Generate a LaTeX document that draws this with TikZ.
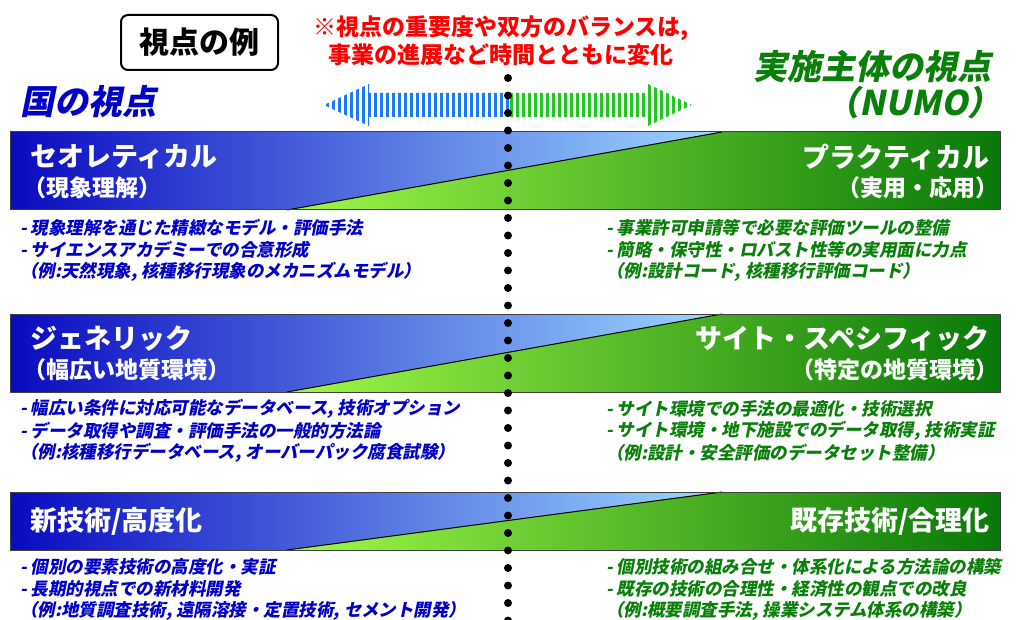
\documentclass[tikz,border=0pt]{standalone}
\usepackage{fontspec}
\setmainfont{Noto Sans CJK JP}
\newfontfamily\jpslant[FakeSlant=0.2]{Noto Sans CJK JP}
\definecolor{natblue}{HTML}{0000C8}
\definecolor{numogreen}{HTML}{0A800A}
\definecolor{notered}{HTML}{FF0000}
\definecolor{banddeep}{HTML}{0A0AC0}
\definecolor{bandmid}{HTML}{6A98E6}
\definecolor{bandsky}{HTML}{9CD8FF}
\definecolor{bandlime}{HTML}{A0F848}
\definecolor{bandleaf}{HTML}{84D838}
\definecolor{banddark}{HTML}{087808}
\definecolor{arrowblue}{HTML}{1A78FF}
\definecolor{arrowgreen}{HTML}{20C820}
\begin{document}
\begin{tikzpicture}[x=1pt,y=-1pt,join=round]
    \tikzstyle{bluefill} = [left color=banddeep,middle color=bandmid,right color=bandsky]
    \tikzstyle{greenfill} = [left color=bandlime,middle color=bandleaf,right color=banddark]
    \tikzstyle{bandedge} = [draw=black!75,line width=1pt]
    \tikzstyle{bandtitle} = [text=white,font=\fontsize{27}{31}\selectfont\bfseries,inner sep=0pt]
    \tikzstyle{bandsub} = [text=white,font=\fontsize{23}{27}\selectfont\bfseries,inner sep=0pt]
    \tikzstyle{natnote} = [text=natblue,font=\jpslant\bfseries\fontsize{17.5}{22}\selectfont,inner sep=0pt]
    \tikzstyle{numonote} = [text=numogreen,font=\jpslant\bfseries\fontsize{17.5}{22}\selectfont,inner sep=0pt]
    \tikzstyle{sidehead} = [font=\jpslant\bfseries\fontsize{34}{40}\selectfont,inner sep=0pt]

    \useasboundingbox (0,0) rectangle (1016,620);

    % headings
    \node[draw,rounded corners=7pt,line width=2pt,minimum width=157pt,minimum height=55pt,
          font=\fontsize{30}{34}\selectfont\bfseries] (example) at (199.5,42.5) {視点の例};
    \node[text=notered,align=center,font=\fontsize{23}{28}\selectfont\bfseries,inner sep=0pt]
          (balance) at (501,41) {※視点の重要度や双方のバランスは,\\事業の進展など時間とともに変化};
    \node[sidehead,text=natblue,anchor=west] (nation) at (20,102) {国の視点};
    \node[sidehead,text=numogreen,anchor=east] (numo) at (992,67) {実施主体の視点};
    \node[sidehead,text=numogreen,anchor=east] (numoabbr) at (1002,103) {（NUMO）};

    % striped double arrow
\begin{scope}
    \clip (324,105)--(369,84)--(369,93)--(648,93)--(648,84)--(692,105)
          --(648,126)--(648,117)--(369,117)--(369,126)--cycle;
    \foreach \sx in {327,333,...,507}
        \draw[arrowblue,line width=3pt] (\sx,80) -- (\sx,130);
    \foreach \sx in {511,517,...,691}
        \draw[arrowgreen,line width=3pt] (\sx,80) -- (\sx,130);
\end{scope}

    % band 1
    \fill[bluefill] (10,132)--(722,132)--(287,210)--(10,210)--cycle;
    \fill[greenfill] (722,132)--(1000,132)--(1000,210)--(287,210)--cycle;
    \draw[line width=1pt] (287,210)--(722,132);
    \draw[bandedge] (10,132) rectangle (1000,210);
    \node[bandtitle,anchor=west] (theory) at (30,157) {セオレティカル};
    \node[bandsub,anchor=west] (theorysub) at (23,188) {（現象理解）};
    \node[bandtitle,anchor=east] (practice) at (990,157) {プラクティカル};
    \node[bandsub,anchor=east] (practicesub) at (999,188) {（実用・応用）};
    \path[natnote]
            (20,228) node[right] (theoryA) {- 現象理解を通じた精緻なモデル・評価手法}
            (20,250) node[right] (theoryB) {- サイエンスアカデミーでの合意形成}
            (20,272) node[right] (theoryC) {（例:天然現象, 核種移行現象のメカニズムモデル）};
    \path[numonote]
            (606,228) node[right] (practiceA) {- 事業許可申請等で必要な評価ツールの整備}
            (606,250) node[right] (practiceB) {- 簡略・保守性・ロバスト性等の実用面に力点}
            (606,272) node[right] (practiceC) {（例:設計コード, 核種移行評価コード）};

    % band 2
    \fill[bluefill] (10,314)--(722,314)--(287,392)--(10,392)--cycle;
    \fill[greenfill] (722,314)--(1000,314)--(1000,392)--(287,392)--cycle;
    \draw[line width=1pt] (287,392)--(722,314);
    \draw[bandedge] (10,314) rectangle (1000,392);
    \node[bandtitle,anchor=west] (generic) at (30,339) {ジェネリック};
    \node[bandsub,anchor=west] (genericsub) at (23,370) {（幅広い地質環境）};
    \node[bandtitle,anchor=east] (specific) at (990,339) {サイト・スペシフィック};
    \node[bandsub,anchor=east] (specificsub) at (999,370) {（特定の地質環境）};
    \path[natnote]
            (20,409) node[right] (genericA) {- 幅広い条件に対応可能なデータベース, 技術オプション}
            (20,431) node[right] (genericB) {- データ取得や調査・評価手法の一般的方法論}
            (20,453) node[right] (genericC) {（例:核種移行データベース, オーバーパック腐食試験）};
    \path[numonote]
            (606,409) node[right] (specificA) {- サイト環境での手法の最適化・技術選択}
            (606,431) node[right] (specificB) {- サイト環境・地下施設でのデータ取得, 技術実証}
            (606,453) node[right] (specificC) {（例:設計・安全評価のデータセット整備）};

    % band 3
    \fill[bluefill] (10,492)--(722,492)--(287,550)--(10,550)--cycle;
    \fill[greenfill] (722,492)--(1000,492)--(1000,550)--(287,550)--cycle;
    \draw[line width=1pt] (287,550)--(722,492);
    \draw[bandedge] (10,492) rectangle (1000,550);
    \node[bandtitle,anchor=west] (newtech) at (30,521) {新技術/高度化};
    \node[bandtitle,anchor=east] (oldtech) at (990,521) {既存技術/合理化};
    \path[natnote]
            (20,567) node[right] (newtechA) {- 個別の要素技術の高度化・実証}
            (20,589) node[right] (newtechB) {- 長期的視点での新材料開発}
            (20,611) node[right] (newtechC) {（例:地質調査技術, 遠隔溶接・定置技術, セメント開発）};
    \path[numonote]
            (606,567) node[right] (oldtechA) {- 個別技術の組み合せ・体系化による方法論の構築}
            (606,589) node[right] (oldtechB) {- 既存の技術の合理性・経済性の観点での改良}
            (606,611) node[right] (oldtechC) {（例:概要調査手法, 操業システム体系の構築）};

    % dotted divider
    \draw[line width=8pt,line cap=round,dash pattern=on 0pt off 17.5pt] (508,78) -- (508,625);
\end{tikzpicture}
\end{document}
